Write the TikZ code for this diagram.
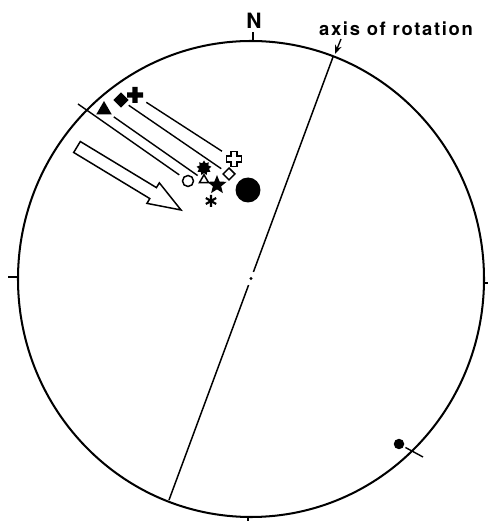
\documentclass[tikz,border=0pt]{standalone}
\usepackage{fontspec}
\setmainfont{TeX Gyre Heros}
\usetikzlibrary{shapes.geometric,arrows.meta,calc}
\tikzset{
  net/.style={line width=1.15pt},
  trace/.style={line width=0.8pt, shorten <=2pt, shorten >=2.5pt},
  symfill/.style={fill, draw=none, inner sep=0pt},
  symopen/.style={draw, fill=white, line width=0.85pt, inner sep=0pt},
  tri/.style={regular polygon, regular polygon sides=3},
  dia/.style={diamond, aspect=1},
  crossbox/.style={inner sep=0pt, minimum size=0.32cm},
  lbl/.style={font=\bfseries\fontsize{10.5}{12}\selectfont}
}

\begin{document}
\begin{tikzpicture}[x=0.02cm, y=0.02cm]
  \useasboundingbox (0,0) rectangle (488,521);
  % primitive circle and ticks
  \draw[net] (251,242) ellipse [x radius=233, y radius=238];
  \draw[net] (253,480) -- (253,489);
  \draw[net] (18,244) -- (8,244);
  \draw[net] (484,238) -- (488,238);
  \draw[net] (248,4) -- (248,0);
  \node[lbl, font=\bfseries\fontsize{12}{14}\selectfont] (north) at (254,500) {N};
  \node[lbl] (axl) at (396,492) {\addfontfeature{LetterSpace=9}axis of rotation};

  % axis of rotation
  \coordinate (C) at (251,242.5);
  \coordinate (B) at (169,21);
  \coordinate (T) at (333,464);
  \fill (C) circle [radius=1.6];
  \draw[line width=0.85pt] (B) -- ($(C)!0.14cm!(B)$);
  \draw[line width=0.85pt] (T) -- ($(C)!0.14cm!(T)$);
  \coordinate (axtail) at (341,482);
  \coordinate (axtip) at (335,467);
  \draw[line width=0.75pt, -{Stealth[length=1.8mm, width=1.4mm]}] (axtail) -- (axtip);

  % poles
  \node[symfill, tri, minimum size=0.36cm] (ftri) at (104,411) {};
  \node[symopen, tri, minimum size=0.21cm] (otri) at (204,341) {};
  \node[symfill, dia, minimum size=0.31cm] (fdia) at (121,421) {};
  \node[symopen, dia, minimum size=0.25cm] (odia) at (229,347) {};
  \node[crossbox] (fcross) at (135,426) {};
  \node[crossbox] (ocross) at (234,362) {};
  \fill[shift={(fcross)}] (-8,-2.7) rectangle (8,2.7) (-2.7,-8) rectangle (2.7,8);
  \draw[line width=0.85pt, fill=white, shift={(ocross)}] (-3,7.5) -- (3,7.5) -- (3,3) -- (7.5,3) -- (7.5,-3) -- (3,-3)
    -- (3,-7.5) -- (-3,-7.5) -- (-3,-3) -- (-7.5,-3) -- (-7.5,3) -- (-3,3) -- cycle;
  \node[symfill, circle, minimum size=0.5cm] (bigdot) at (248,331) {};
  \node[symopen, circle, minimum size=0.22cm] (ocirc) at (188,340) {};
  \node[symfill, star, star points=5, star point ratio=2.3, minimum size=0.4cm] (fstar) at (217,336) {};
  \node[symfill, star, star points=9, star point ratio=1.5, minimum size=0.3cm] (burst) at (204,353) {};
  \node[crossbox, minimum size=0.25cm] (aster) at (211,320) {};
  \draw[line width=1.2pt, shift={(aster)}] (0,-6) -- (0,6) (-5.2,-3) -- (5.2,3) (-5.2,3) -- (5.2,-3);
  \node[symfill, circle, minimum size=0.21cm] (pole) at (399,77) {};
  \coordinate (polex) at (423,64);
  \draw[trace, shorten <=1pt, shorten >=0pt] (pole) -- (polex);

  % rotation paths
  \coordinate (lstart) at (78,417);
  \draw[trace, shorten <=0pt] (lstart) -- (ocirc);
  \draw[trace] (ftri) -- (otri);
  \draw[trace] (fdia) -- (odia);
  \draw[trace] (fcross) -- (ocross);

  % sense of rotation
  \begin{scope}[shift={(77,374)}, rotate=-31.2]
    \draw[line width=0.85pt, fill=white] (0,-6.4) -- (89,-6.4) -- (89,-12) -- (121.6,0) -- (89,12) -- (89,6.4) -- (0,6.4) -- cycle;
  \end{scope}
\end{tikzpicture}
\end{document}
